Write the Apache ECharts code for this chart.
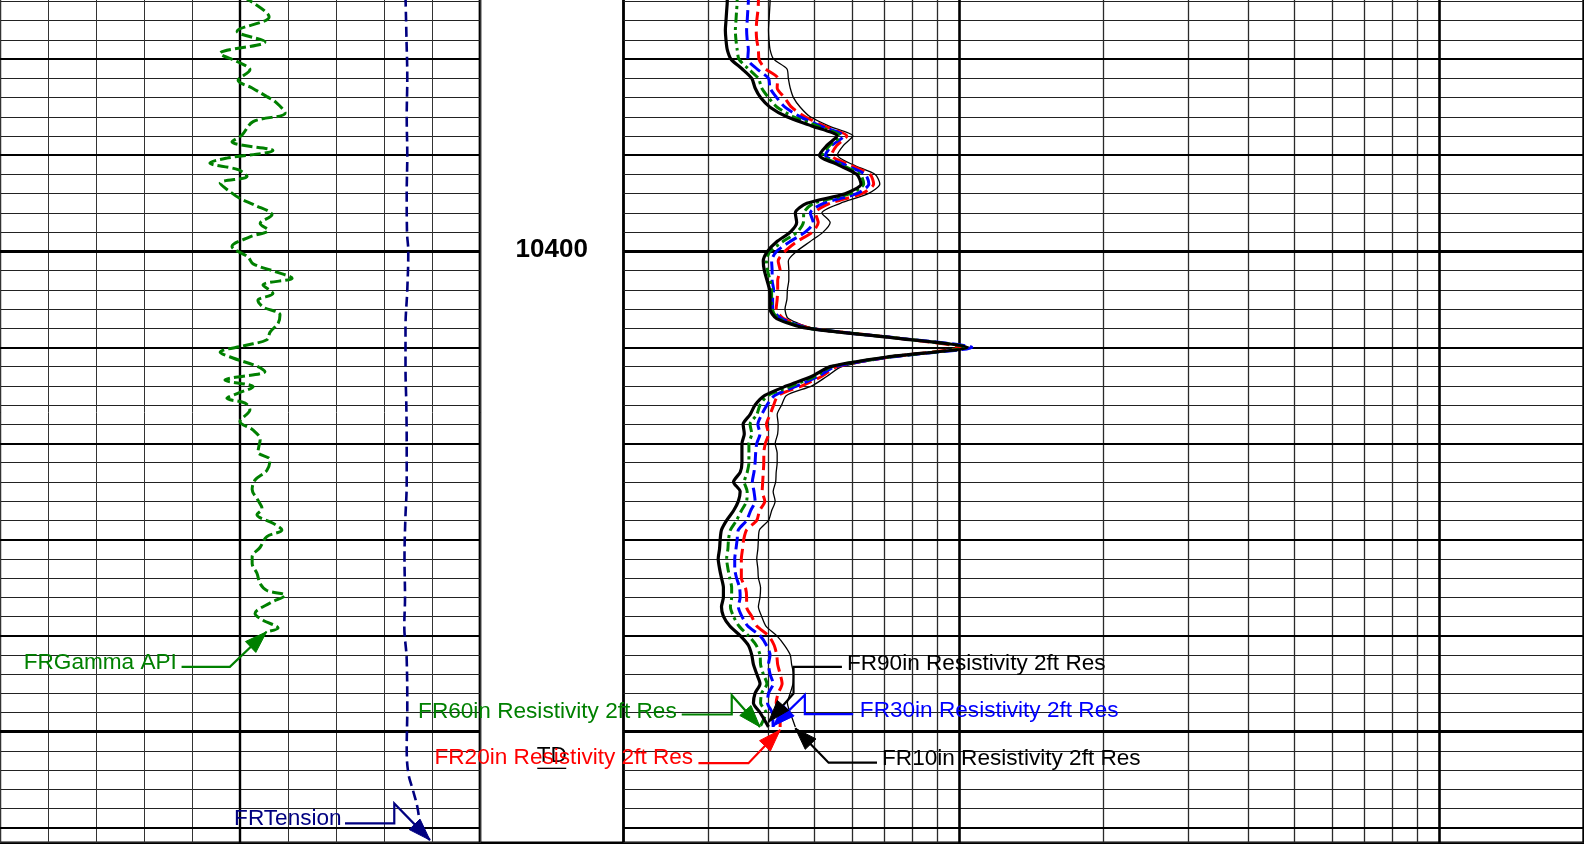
<!DOCTYPE html>
<html>
<head>
<meta charset="utf-8">
<script src="https://cdn.jsdelivr.net/npm/echarts@6/dist/echarts.min.js"></script>
<style>
html,body{margin:0;padding:0;background:#fff;overflow:hidden;}
#wrap{position:relative;width:1584px;height:845px;overflow:hidden;}
#c{position:absolute;left:0;top:-18px;width:1584px;height:863px;}
</style>
</head>
<body>
<div id="wrap"><div id="c"></div></div>
<script>
// ---------------- DATA ----------------
// Resistivity curves (ohm.m), sampled on a shared depth list (ft)
const resDepth = [10373,10374,10375,10376,10377,10378,10379,10380,10381,10382,10383,10384,10385,10386,10387,10388,10389,10390,10391,10392,10393,10394,10395,10396,10397,10398,10399,10400,10401,10402,10403,10404,10405,10406,10407,10408,10409,10410,10411,10412,10413,10414,10415,10416,10417,10418,10419,10420,10421,10422,10423,10424,10425,10426,10427,10428,10429,10430,10431,10432,10433,10434,10435,10436,10437,10438,10439,10440,10441,10442,10443,10444,10445,10446,10447,10448,10449.5];
const rt90 = [.329,.329,.328,.327,.326,.327,.329,.335,.353,.370,.376,.386,.404,.438,.497,.557,.530,.512,.560,.613,.625,.579,.482,.456,.459,.445,.417,.399,.391,.393,.398,.403,.404,.404,.417,.482,.730,1.039,.708,.539,.494,.438,.394,.376,.367,.355,.357,.353,.353,.353,.350,.339,.350,.347,.339,.328,.320,.318,.317,.315,.317,.320,.323,.323,.320,.323,.333,.350,.364,.370,.373,.379,.385,.376,.373,.385,.401];
const rt60 = [.345,.345,.344,.343,.342,.343,.345,.348,.364,.382,.388,.401,.418,.452,.509,.566,.537,.519,.569,.623,.633,.593,.498,.475,.474,.460,.429,.404,.397,.399,.404,.407,.407,.408,.421,.486,.734,1.036,.715,.543,.502,.449,.400,.385,.379,.367,.370,.365,.365,.365,.362,.357,.362,.361,.352,.344,.334,.331,.330,.328,.330,.333,.336,.336,.334,.339,.348,.364,.378,.385,.386,.391,.398,.388,.386,.396,.385];
const rt30 = [.364,.364,.363,.362,.361,.362,.364,.363,.379,.401,.404,.417,.434,.467,.517,.575,.543,.527,.578,.638,.649,.612,.522,.490,.497,.478,.444,.417,.407,.408,.408,.411,.409,.409,.427,.488,.737,1.064,.722,.552,.510,.460,.413,.398,.388,.381,.385,.379,.377,.376,.374,.371,.374,.376,.368,.361,.347,.345,.343,.341,.341,.344,.349,.350,.347,.353,.363,.385,.397,.404,.401,.404,.410,.401,.399,.408,.410];
const rt20 = [.382,.382,.381,.379,.378,.379,.382,.383,.395,.419,.418,.433,.448,.478,.526,.584,.556,.542,.592,.653,.664,.627,.539,.502,.509,.495,.459,.434,.420,.424,.419,.419,.418,.416,.431,.490,.734,1.006,.718,.557,.518,.471,.420,.411,.404,.397,.401,.395,.392,.392,.391,.390,.389,.394,.384,.379,.361,.356,.354,.352,.352,.352,.359,.361,.361,.370,.379,.401,.412,.417,.419,.424,.428,.420,.416,.424,.424];
const rt10 = [.404,.404,.403,.402,.401,.402,.404,.411,.438,.441,.445,.452,.467,.490,.538,.601,.574,.558,.602,.669,.684,.647,.566,.518,.539,.521,.489,.459,.441,.442,.442,.439,.438,.434,.441,.498,.741,1.053,.729,.570,.531,.494,.437,.427,.418,.420,.419,.414,.418,.418,.416,.415,.410,.414,.407,.401,.384,.382,.381,.379,.381,.382,.386,.385,.382,.388,.396,.417,.433,.445,.448,.452,.451,.445,.439,.445,.456];

// Gamma ray (API)
const grDepth = [10373.5,10375.6,10377.1,10378.2,10379.4,10380.3,10381.1,10382.2,10383.0,10383.9,10384.4,10385.6,10386.5,10387.9,10388.6,10389.5,10390.3,10390.8,10391.5,10392.2,10392.9,10393.8,10394.5,10395.2,10396.2,10397.1,10397.8,10398.5,10399.5,10400.6,10401.3,10402.1,10402.8,10403.5,10404.4,10405.1,10405.8,10406.6,10407.5,10408.4,10409.2,10409.8,10410.5,10411.1,10412.0,10412.5,10413.4,10414.1,10414.8,10415.3,10415.8,10416.5,10417.7,10418.6,10419.6,10420.3,10420.9,10421.7,10422.8,10423.8,10424.8,10425.9,10426.8,10427.4,10428.3,10429.0,10429.7,10430.8,10431.8,10432.5,10433.5,10434.6,10435.3,10435.8,10436.6,10437.7,10438.4,10439.2,10439.6];
const grValue = [75.9,84.1,74.1,82.8,68.8,74.4,78.1,74.4,78.8,83.4,85.9,89.1,79.1,75.6,72.5,85.3,70.9,65.6,74.4,77.2,68.8,71.9,75.0,79.7,85.0,81.3,83.8,78.1,72.5,77.5,79.1,85.9,91.3,82.2,85.3,80.6,82.2,87.5,86.9,84.4,83.4,76.6,68.8,72.8,80.6,82.8,70.3,79.1,74.1,70.9,76.6,78.1,75.0,79.1,81.3,80.9,80.6,84.4,83.4,79.7,78.8,80.6,81.9,80.3,85.3,88.1,83.4,81.3,78.8,78.8,80.3,81.3,83.4,89.1,84.4,79.7,82.2,86.9,83.3];

// Cable tension (lbf)
const tenDepth = [10373.5,10378,10382,10386,10390,10394,10398,10400,10404,10408,10412,10416,10420,10424,10428,10432,10436,10439,10442.5,10447.7,10451.6,10454.3,10456,10457.8,10459.2];
const tenValue = [8448,8469,8485,8473,8485,8473,8479,8506,8485,8448,8448,8465,8473,8473,8444,8427,8438,8423,8473,8485,8473,8506,8598,8694,8735];

// Depth annotations
const depthLabels = [10400];
const tdDepth = [10450];

// Grid reference values
const depthMedium = [10380,10390,10410,10420,10430,10440,10460];
const depthHeavy = [10400,10450];
const resMinor = [0.3,0.4,0.5,0.6,0.7,0.8,0.9,2,3,4,5,6,7,8,9];
const resMajor = [1,10];
const grMajor = [75];

// ---------------- CHART ----------------
const FONT = '"Liberation Sans", Arial, sans-serif';
const chart = echarts.init(document.getElementById('c'), null, {renderer:'canvas'});
const TOP = 0.3, H = 860.4;
const pairs = (vals, deps) => deps.map((d,i)=>[vals[i], d]);

function yAx(grid, split){
  return {type:'value', gridIndex:grid, min:10372, max:10461.55, interval:2, inverse:true,
    axisLine:{show:false}, axisTick:{show:false}, axisLabel:{show:false},
    splitLine:{show:split, lineStyle:{color:'#222', width:1}}};
}
function hidden(o){
  return Object.assign({axisLine:{show:false}, axisTick:{show:false}, axisLabel:{show:false}, splitLine:{show:false}}, o);
}

const hLines = depthMedium.map(d=>({yAxis:d, lineStyle:{width:1.9}}))
  .concat(depthHeavy.map(d=>({yAxis:d, lineStyle:{width:3}})));

const option = {
  animation:false,
  backgroundColor:'#fff',
  textStyle:{fontFamily:FONT},
  grid:[
    {left:0, top:TOP, width:480, height:H, show:true, borderColor:'#000', borderWidth:2.4, backgroundColor:'rgba(0,0,0,0)'},
    {left:480, top:TOP, width:143.5, height:H, show:true, borderColor:'#000', borderWidth:2.4, backgroundColor:'rgba(0,0,0,0)'},
    {left:623.5, top:TOP, width:960, height:H, show:true, borderColor:'#000', borderWidth:2.4, backgroundColor:'rgba(0,0,0,0)'}
  ],
  xAxis:[
    {type:'value', gridIndex:0, min:0, max:150, interval:15, axisLine:{show:false}, axisTick:{show:false}, axisLabel:{show:false},
      splitLine:{show:true, lineStyle:{color:'#333', width:1}}},
    hidden({type:'value', gridIndex:0, min:0, max:10000}),
    hidden({type:'value', gridIndex:1, min:0, max:1}),
    hidden({type:'log', gridIndex:2, min:0.2, max:20, logBase:10})
  ],
  yAxis:[ yAx(0,true), yAx(1,false), yAx(2,true) ],
  series:[
    {type:'line', name:'leftGrid', xAxisIndex:0, yAxisIndex:0, data:[], silent:true,
      markLine:{silent:true, symbol:['none','none'], label:{show:false}, z:1, animation:false,
        lineStyle:{type:'solid', color:'#000'},
        data: grMajor.map(v=>({xAxis:v, lineStyle:{width:2.4}})).concat(hLines)}},
    {type:'line', name:'rightGrid', xAxisIndex:3, yAxisIndex:2, data:[], silent:true,
      markLine:{silent:true, symbol:['none','none'], label:{show:false}, z:1, animation:false,
        lineStyle:{type:'solid', color:'#000'},
        data: resMinor.map(v=>({xAxis:v, lineStyle:{width:1.3, color:'#2a2a2a'}}))
          .concat(resMajor.map(v=>({xAxis:v, lineStyle:{width:2.6}})))
          .concat(hLines)}},
    {type:'line', name:'FRGamma API', xAxisIndex:0, yAxisIndex:0, data:pairs(grValue, grDepth),
      showSymbol:false, smooth:0.35, z:4, lineStyle:{color:'#008000', width:3, type:[11,4]}},
    {type:'line', name:'FRTension', xAxisIndex:1, yAxisIndex:0, data:pairs(tenValue, tenDepth),
      showSymbol:false, smooth:0.4, z:4, lineStyle:{color:'#000080', width:2.6, type:[10,5]}},
    {type:'scatter', name:'depth', xAxisIndex:2, yAxisIndex:1, data:depthLabels.map(d=>[0.5,d]),
      symbolSize:1, itemStyle:{color:'rgba(0,0,0,0)'}, silent:true,
      label:{show:true, position:'inside', offset:[0,-1], formatter:p=>String(p.value[1]), fontSize:26, fontWeight:'bold', color:'#000', opacity:1, fontFamily:FONT}},
    {type:'scatter', name:'TD', xAxisIndex:2, yAxisIndex:1, data:tdDepth.map(d=>[0.5,d]),
      symbolSize:1, itemStyle:{color:'rgba(0,0,0,0)'}, silent:true,
      label:{show:true, position:'inside', offset:[0,23.6], formatter:'TD', fontSize:22.6, color:'#000', opacity:1, fontFamily:FONT}},
    {type:'line', name:'FR10in Resistivity 2ft Res', xAxisIndex:3, yAxisIndex:2, data:pairs(rt10, resDepth),
      showSymbol:false, smooth:0.25, z:4, lineStyle:{color:'#000', width:1.3}},
    {type:'line', name:'FR20in Resistivity 2ft Res', xAxisIndex:3, yAxisIndex:2, data:pairs(rt20, resDepth),
      showSymbol:false, smooth:0.25, z:4, lineStyle:{color:'#ff0000', width:3, type:[14,6]}},
    {type:'line', name:'FR30in Resistivity 2ft Res', xAxisIndex:3, yAxisIndex:2, data:pairs(rt30, resDepth),
      showSymbol:false, smooth:0.25, z:4, lineStyle:{color:'#0000ff', width:3, type:[13,5]}},
    {type:'line', name:'FR60in Resistivity 2ft Res', xAxisIndex:3, yAxisIndex:2, data:pairs(rt60, resDepth),
      showSymbol:false, smooth:0.25, z:4, lineStyle:{color:'#008000', width:3, type:[10,4,3,4]}},
    {type:'line', name:'FR90in Resistivity 2ft Res', xAxisIndex:3, yAxisIndex:2, data:pairs(rt90, resDepth),
      showSymbol:false, smooth:0.25, z:5, lineStyle:{color:'#000', width:3.2}}
  ]
};
chart.setOption(option);

// ---------------- CALLOUTS (anchored on each curve's last point) ----------------
const callouts = [
  {s:2, color:'#008000', label:'FRGamma API', tipOff:[0,0], path:[[-36.7,35],[-85,35]], text:[-89.7,31], align:'right'},
  {s:3, color:'#000080', label:'FRTension', tipOff:[10.7,20], path:[[-35.7,-36.7],[-35.7,-16.7],[-85,-16.7]], text:[-88.3,-21], align:'right'},
  {s:9, color:'#008000', label:'FR60in Resistivity 2ft Res', tipOff:[0,0], path:[[-28.3,-31.7],[-28.3,-12.4],[-78.3,-12.4]], text:[-83.3,-15], align:'right'},
  {s:7, color:'#ff0000', label:'FR20in Resistivity 2ft Res', tipOff:[0,3], path:[[-31.7,33.3],[-81.7,33.3]], text:[-87,28.3], align:'right'},
  {s:8, color:'#0000ff', label:'FR30in Resistivity 2ft Res', tipOff:[0,-1], path:[[31.7,-31],[31.7,-11.7],[80,-11.7]], text:[86.7,-15], align:'left'},
  {s:10, color:'#000000', label:'FR90in Resistivity 2ft Res', tipOff:[0,-5], path:[[25,-28.4],[25,-55],[73.4,-55]], text:[78.4,-58.4], align:'left'},
  {s:6, color:'#000000', label:'FR10in Resistivity 2ft Res', tipOff:[0,1.4], path:[[33.3,34.4],[81.7,34.4]], text:[86.7,30], align:'left'}
];
const els = [];
callouts.forEach(c=>{
  const data = option.series[c.s].data;
  const p = chart.convertToPixel({seriesIndex:c.s}, data[data.length-1]);
  const tip = [p[0]+c.tipOff[0], p[1]+c.tipOff[1]];
  const pts = [tip].concat(c.path.map(q=>[tip[0]+q[0], tip[1]+q[1]]));
  const a = pts[1];
  const dx = tip[0]-a[0], dy = tip[1]-a[1], len = Math.hypot(dx,dy);
  const ux = dx/len, uy = dy/len, L = 22, W = 7.5;
  const bx = tip[0]-ux*L, by = tip[1]-uy*L;
  els.push({type:'polyline', silent:true, z:100, shape:{points:pts}, style:{stroke:c.color, lineWidth:2.2, fill:null}});
  els.push({type:'polygon', silent:true, z:101, shape:{points:[tip,[bx-uy*W,by+ux*W],[bx+uy*W,by-ux*W]]}, style:{fill:c.color, stroke:c.color, lineWidth:1}});
  els.push({type:'text', silent:true, z:102, x:tip[0]+c.text[0], y:tip[1]+c.text[1],
    style:{text:c.label, fill:c.color, font:'22.6px ' + FONT, textAlign:c.align, textVerticalAlign:'middle'}});
});
// underline for TD
const tdp = chart.convertToPixel({seriesIndex:5}, [0.5, tdDepth[0]]);
els.push({type:'line', silent:true, z:102, shape:{x1:tdp[0]-14.5, y1:tdp[1]+36.6, x2:tdp[0]+14.5, y2:tdp[1]+36.6}, style:{stroke:'#000', lineWidth:1.3}});
chart.setOption({graphic:{elements:els}});
</script>
</body>
</html>
